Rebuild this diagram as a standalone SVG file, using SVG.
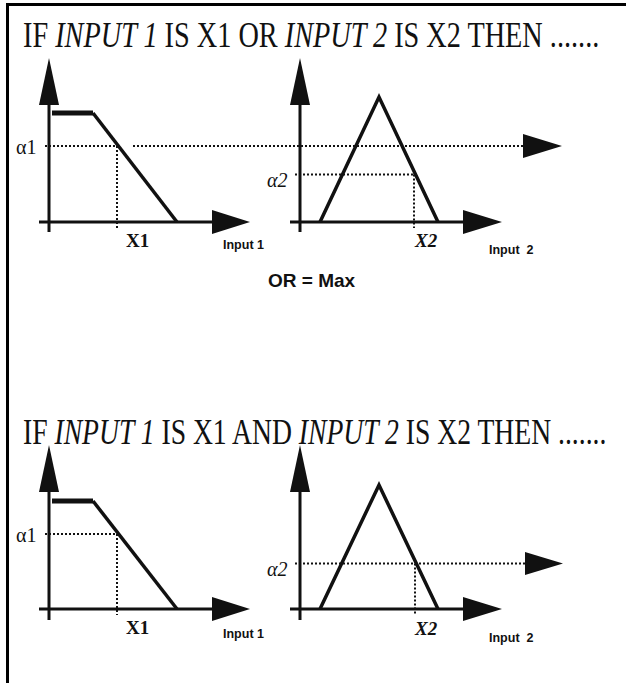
<svg xmlns="http://www.w3.org/2000/svg" width="626" height="683" viewBox="0 0 626 683">
<style>
.ax{stroke:#111;stroke-width:3;fill:none}
.mf{stroke:#111;stroke-width:3.5;fill:none;stroke-linejoin:miter}
.top{stroke:#111;stroke-width:5;fill:none}
.dot{stroke:#111;stroke-width:2;stroke-dasharray:2 2;fill:none}
.hd{fill:#111;stroke:none}
.title{font-family:"Liberation Serif","Times New Roman",serif;font-size:35px;fill:#111}
.it{font-style:italic}
.al{font-family:"Liberation Serif","Times New Roman",serif;font-size:20px;fill:#111}
.xl{font-family:"Liberation Serif","Times New Roman",serif;font-size:19px;font-weight:bold;fill:#111}
.in{font-family:"Liberation Sans",Arial,sans-serif;font-size:12.5px;font-weight:bold;fill:#111;white-space:pre}
.op{font-family:"Liberation Sans",Arial,sans-serif;font-size:19px;font-weight:bold;fill:#111}
</style>
<rect width="626" height="683" fill="#fff"/>
<g id="border"><path d="M7.5,683 V4.5 H626" stroke="#000" stroke-width="3" fill="none"/></g>

<g id="title-or">
<text class="title" transform="translate(23,47) scale(0.808,1)">IF <tspan class="it">INPUT 1</tspan> IS X1 OR <tspan class="it">INPUT 2</tspan> IS X2 THEN .......</text>
</g>

<g id="graph-or-input1">
<path class="ax" d="M49,105 V232 M39,222 H212"/>
<polygon class="hd" points="49,58 39,105 59,105"/>
<polygon class="hd" points="250,222 212,210 212,234"/>
<path class="top" d="M52,113 H93"/>
<path class="mf" d="M93,113 L177,222"/>
<path class="dot" d="M45,146 H117 M117,146 V228"/>
<text class="al" x="16" y="154">α1</text>
<text class="xl" x="126" y="247">X1</text>
<text class="in" x="223" y="249">Input 1</text>
</g>

<g id="graph-or-input2">
<path class="ax" d="M300,105 V232 M290,222 H463"/>
<polygon class="hd" points="300,58 290,105 310,105"/>
<polygon class="hd" points="502,222 463,210 463,234"/>
<path class="mf" d="M320,222 L379,97 L438,222"/>
<path class="dot" d="M295,174.5 H414 M414,174.5 V228"/>
<text class="al it" x="267" y="187">α2</text>
<text class="xl it" x="415" y="247">X2</text>
<text class="in" x="489" y="254">Input  2</text>
</g>

<g id="alpha1-projection">
<path class="dot" d="M133,146 H523"/>
<polygon class="hd" points="562,146 523,134 523,158"/>
</g>

<g id="or-label"><text class="op" x="268" y="287">OR = Max</text></g>

<g id="title-and">
<text class="title" transform="translate(23,444) scale(0.79,1)">IF <tspan class="it">INPUT 1</tspan> IS X1 AND <tspan class="it">INPUT 2</tspan> IS X2 THEN .......</text>
</g>

<g id="graph-and-input1">
<path class="ax" d="M49,492 V620 M39,609 H212"/>
<polygon class="hd" points="49,445 39,492 59,492"/>
<polygon class="hd" points="250,609 212,597 212,621"/>
<path class="top" d="M52,501 H93"/>
<path class="mf" d="M93,501 L177,609"/>
<path class="dot" d="M45,534 H117 M117,534 V615"/>
<text class="al" x="16" y="542">α1</text>
<text class="xl" x="126" y="634">X1</text>
<text class="in" x="223" y="638">Input 1</text>
</g>

<g id="graph-and-input2">
<path class="ax" d="M300,492 V620 M290,609 H463"/>
<polygon class="hd" points="300,445 290,492 310,492"/>
<polygon class="hd" points="502,609 463,597 463,621"/>
<path class="mf" d="M320,609 L379,485 L438,609"/>
<path class="dot" d="M295,563.5 H525 M415,563.5 V614"/>
<polygon class="hd" points="563,563.5 525,552 525,575"/>
<text class="al it" x="267" y="576">α2</text>
<text class="xl it" x="415" y="635">X2</text>
<text class="in" x="489" y="642">Input  2</text>
</g>
</svg>
